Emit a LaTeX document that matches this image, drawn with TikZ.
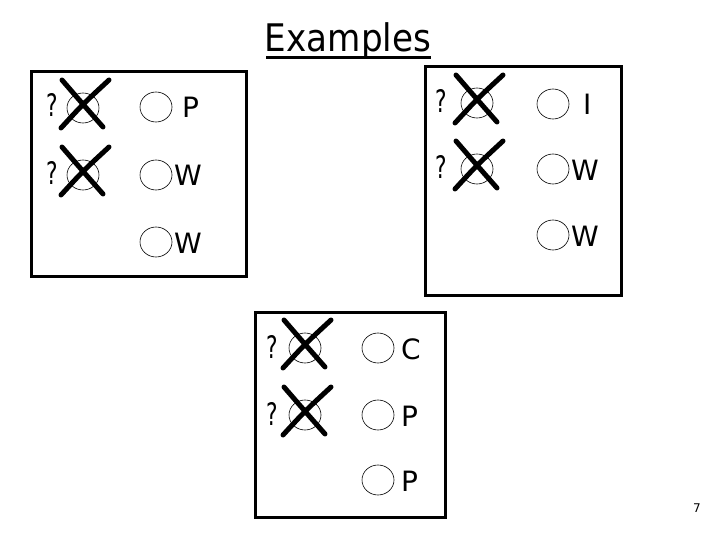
\documentclass[tikz,border=0pt]{standalone}
\usepackage{fontspec}
\setmainfont{DejaVu Sans}
\tikzset{
  frame/.style={draw=black, line width=3pt},
  circ/.style={draw=black, line width=0.6pt},
  xline/.style={draw=black, line width=5pt, line cap=round},
  letter/.style={anchor=base west, inner sep=0pt, font=\fontsize{28}{28}\selectfont},
  qmark/.style={anchor=base, inner sep=0pt, font=\fontsize{31}{31}\selectfont, xscale=0.7, transform shape},
  pics/crossed/.style={code={
    \draw[circ] (0,0) ellipse [x radius=16, y radius=15];
    \draw[xline] (-22,20) .. controls (0,-4) .. (26,-28);
    \draw[xline] (-21,-28) .. controls (-2,-6) .. (20,19);
  }},
  pics/blank/.style={code={
    \draw[circ] (0,0) ellipse [x radius=16, y radius=15];
  }}
}
\begin{document}
\begin{tikzpicture}[x=1pt,y=-1pt]
\useasboundingbox (0,0) rectangle (720,540);
% title
\node[anchor=base, inner sep=0pt, font=\fontsize{38}{38}\selectfont, xscale=0.9, transform shape] (title) at (348,52) {Examples};
\draw[line width=3pt] (266,58) -- (431,58);
% box 1
\draw[frame] (31,72) rectangle (246,276);
\node[qmark] (q11) at (52,117) {?};
\pic at (83,108) {crossed};
\pic at (156,107) {blank};
\node[letter] (l11) at (182,118) {P};
\node[qmark] (q12) at (52,185) {?};
\pic at (83,175) {crossed};
\pic at (156,175) {blank};
\node[letter] (l12) at (174,186) {W};
\pic at (156,242) {blank};
\node[letter] (l13) at (174,253) {W};
% box 2
\draw[frame] (425,67) rectangle (621,295);
\node[qmark] (q21) at (441,113) {?};
\pic at (477,103) {crossed};
\pic at (553,104) {blank};
\node[letter] (l21) at (583,115) {I};
\node[qmark] (q22) at (441,179) {?};
\pic at (477,169) {crossed};
\pic at (553,169) {blank};
\node[letter] (l22) at (571,181) {W};
\pic at (553,235) {blank};
\node[letter] (l23) at (571,247) {W};
% box 3
\draw[frame] (255,312) rectangle (445,517);
\node[qmark] (q31) at (272,358) {?};
\pic at (305,348) {crossed};
\pic at (378,348) {blank};
\node[letter] (l31) at (401,359) {C};
\node[qmark] (q32) at (272,425) {?};
\pic at (305,415) {crossed};
\pic at (378,415) {blank};
\node[letter] (l32) at (401,426) {P};
\pic at (378,480) {blank};
\node[letter] (l33) at (401,491) {P};
% page number
\node[anchor=base, inner sep=0pt, font=\fontsize{12}{12}\selectfont] (pg) at (697,512) {7};
\end{tikzpicture}
\end{document}
